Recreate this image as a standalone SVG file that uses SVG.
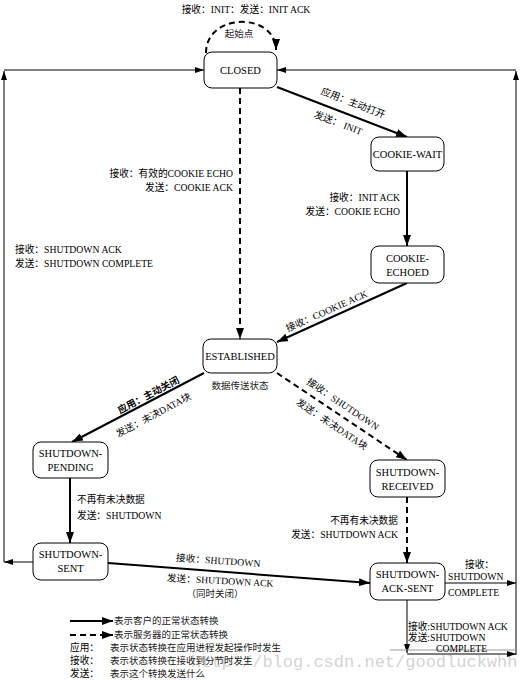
<svg xmlns="http://www.w3.org/2000/svg" width="524" height="680" viewBox="0 0 524 680">
<defs>
<marker id="ah" markerUnits="userSpaceOnUse" markerWidth="11" markerHeight="8" refX="11" refY="4" orient="auto"><path d="M0,0 L11,4 L0,8 z" fill="#000"/></marker>
<marker id="as" markerUnits="userSpaceOnUse" markerWidth="9" markerHeight="6" refX="9" refY="3" orient="auto"><path d="M0,0 L9,3 L0,6 z" fill="#000"/></marker>
<style>
.node rect{fill:#fff;stroke:#000;stroke-width:1}
.node text{font-family:"Liberation Serif","Noto Sans CJK SC",serif;font-size:10.5px;text-anchor:middle;fill:#000}
.lbl{font-family:"Liberation Serif","Noto Sans CJK SC",serif;font-size:9.7px;fill:#000}
.cn{font-family:"Noto Sans CJK SC",sans-serif;font-size:9.5px;fill:#222}
.thick{stroke:#000;stroke-width:2;fill:none;marker-end:url(#ah)}
.dash{stroke:#000;stroke-width:2;fill:none;stroke-dasharray:6,4;marker-end:url(#ah)}
.thin{stroke:#000;stroke-width:1;fill:none}
.thina{stroke:#000;stroke-width:1;fill:none;marker-end:url(#as)}
</style>
</defs>
<rect width="524" height="680" fill="#fff"/>
<text x="191" y="667" font-family="Liberation Mono,monospace" font-size="17" fill="#c8c8c8" fill-opacity="0.8">http://blog.csdn.net/goodluckwhh</text>
<g id="connectors">
<path class="dash" d="M206,53 C206,12 276,12 276,50"/>
<path class="thick" d="M277,87 L407,137"/>
<path class="dash" d="M240,88 L240,339"/>
<path class="thick" d="M407,171 L407,246"/>
<path class="thick" d="M407,283 L277,342"/>
<path class="thick" d="M204,373 L72,442"/>
<path class="dash" d="M277,373 L407,460"/>
<path class="thick" d="M70,478 L70,543"/>
<path class="dash" d="M407,497 L407,563"/>
<path class="thick" d="M108,563 L370,583"/>
<path class="thina" d="M33,562 L4,562"/>
<path class="thina" d="M4,562 L4,71"/>
<path class="thina" d="M4,70 L204,70"/>
<path class="thina" d="M516,655 L516,71"/>
<path class="thina" d="M516,70 L277,70"/>
<path class="thina" d="M445,583 L516,583"/>
<path class="thina" d="M407,600 L407,653"/>
<path class="thina" d="M407,654 L516,654"/>
<path d="M390,650 L516,650" stroke="#999" stroke-width="1" fill="none"/>
</g>
<g id="labels">
<text class="lbl" x="246" y="13" text-anchor="middle">接收：INIT：发送：INIT ACK</text>
<text class="cn" x="239" y="37" text-anchor="middle" font-size="9">起始点</text>
<text class="lbl" transform="translate(352,106) rotate(21)" text-anchor="middle">应用：主动打开</text>
<text class="lbl" transform="translate(337,126) rotate(21)" text-anchor="middle">发送： INIT</text>
<text class="lbl" x="233" y="177" text-anchor="end">接收：有效的COOKIE ECHO</text>
<text class="lbl" x="233" y="191" text-anchor="end">发送：COOKIE ACK</text>
<text class="lbl" x="400" y="201" text-anchor="end">接收：INIT ACK</text>
<text class="lbl" x="400" y="215" text-anchor="end">发送：COOKIE ECHO</text>
<text class="lbl" x="15" y="253">接收：SHUTDOWN ACK</text>
<text class="lbl" x="15" y="267">发送：SHUTDOWN COMPLETE</text>
<text class="lbl" transform="translate(328,314) rotate(-24)" text-anchor="middle">接收：COOKIE ACK</text>
<text class="cn" x="240" y="389" text-anchor="middle" font-size="9">数据传送状态</text>
<text class="lbl" transform="translate(150,398) rotate(-28)" text-anchor="middle" font-weight="bold">应用：主动关闭</text>
<text class="lbl" transform="translate(155,418) rotate(-28)" text-anchor="middle">发送：未决DATA块</text>
<text class="lbl" transform="translate(341,407) rotate(34)" text-anchor="middle">接收：SHUTDOWN</text>
<text class="lbl" transform="translate(330,427) rotate(34)" text-anchor="middle">发送：未决DATA块</text>
<text class="lbl" x="77" y="503">不再有未决数据</text>
<text class="lbl" x="77" y="519">发送：SHUTDOWN</text>
<text class="lbl" x="398" y="524" text-anchor="end">不再有未决数据</text>
<text class="lbl" x="398" y="538" text-anchor="end">发送：SHUTDOWN ACK</text>
<text class="lbl" transform="translate(218,564) rotate(4)" text-anchor="middle">接收：SHUTDOWN</text>
<text class="lbl" transform="translate(220,584) rotate(3)" text-anchor="middle">发送：SHUTDOWN  ACK</text>
<text class="cn" x="215" y="597" text-anchor="middle" font-size="9">（同时关闭）</text>
<text class="lbl" x="465" y="568">接收：</text>
<text class="lbl" x="448" y="580">SHUTDOWN</text>
<text class="lbl" x="448" y="596">COMPLETE</text>
<text class="lbl" x="408" y="630">接收:SHUTDOWN ACK</text>
<text class="lbl" x="408" y="641">发送:SHUTDOWN</text>
<text class="lbl" x="436" y="652">COMPLETE</text>
</g>
<g id="legend">
<path class="thick" d="M70,621 L113,621"/>
<path class="dash" d="M70,635 L113,635" stroke-dasharray="5,3"/>
<text class="cn" x="114" y="624">表示客户的正常状态转换</text>
<text class="cn" x="114" y="638">表示服务器的正常状态转换</text>
<text class="lbl" x="70" y="651">应用：</text>
<text class="cn" x="110" y="651">表示状态转换在应用进程发起操作时发生</text>
<text class="lbl" x="70" y="664">接收：</text>
<text class="cn" x="110" y="664">表示状态转换在接收到分节时发生</text>
<text class="lbl" x="70" y="677">发送：</text>
<text class="cn" x="110" y="677">表示这个转换发送什么</text>
</g>
<g id="closed" class="node"><rect x="204" y="52" width="73" height="36" rx="8"/><text x="240.5" y="74">CLOSED</text></g>
<g id="cookie-wait" class="node"><rect x="371" y="137" width="73" height="34" rx="8"/><text x="407.5" y="158">COOKIE-WAIT</text></g>
<g id="cookie-echoed" class="node"><rect x="371" y="246" width="73" height="37" rx="8"/><text x="407.5" y="262">COOKIE-</text><text x="407.5" y="276">ECHOED</text></g>
<g id="established" class="node"><rect x="203" y="339" width="74" height="34" rx="8"/><text x="240" y="360">ESTABLISHED</text></g>
<g id="shutdown-pending" class="node"><rect x="33" y="442" width="75" height="36" rx="8"/><text x="70.5" y="457">SHUTDOWN-</text><text x="70.5" y="471">PENDING</text></g>
<g id="shutdown-received" class="node"><rect x="370" y="460" width="75" height="37" rx="8"/><text x="407.5" y="476">SHUTDOWN-</text><text x="407.5" y="490">RECEIVED</text></g>
<g id="shutdown-sent" class="node"><rect x="33" y="543" width="75" height="37" rx="8"/><text x="70.5" y="558">SHUTDOWN-</text><text x="70.5" y="572">SENT</text></g>
<g id="shutdown-ack-sent" class="node"><rect x="370" y="563" width="75" height="37" rx="8"/><text x="407.5" y="578">SHUTDOWN-</text><text x="407.5" y="592">ACK-SENT</text></g>
</svg>
